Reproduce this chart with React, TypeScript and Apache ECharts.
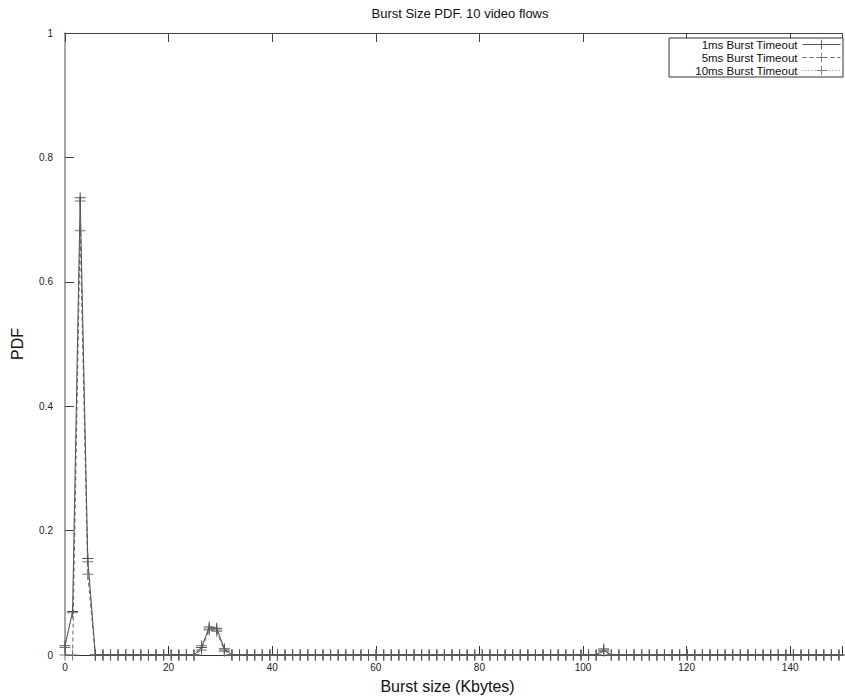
import React, { useEffect, useRef } from "react";
import * as echarts from "echarts";

// Histogram bins: one packet = 1500 bytes = 1500/1024 Kbytes
const binWidthKB = 1500 / 1024;
const binCount = 103;
const bins: number[] = Array.from({ length: binCount }, (_, k) => k * binWidthKB);

const seriesNames = ["1ms Burst Timeout", "5ms Burst Timeout", "10ms Burst Timeout"];

const pdf1ms: number[] = [
  0.015, 0.070, 0.735, 0.155, 0, 0, 0, 0, 0, 0,
  0, 0, 0, 0, 0, 0, 0, 0, 0.012, 0.045,
  0.043, 0.010, 0, 0, 0, 0, 0, 0, 0, 0,
  0, 0, 0, 0, 0, 0, 0, 0, 0, 0,
  0, 0, 0, 0, 0, 0, 0, 0, 0, 0,
  0, 0, 0, 0, 0, 0, 0, 0, 0, 0,
  0, 0, 0, 0, 0, 0, 0, 0, 0, 0,
  0, 0.008, 0, 0, 0, 0, 0, 0, 0, 0,
  0, 0, 0, 0, 0, 0, 0, 0, 0, 0,
  0, 0, 0, 0, 0, 0, 0, 0, 0, 0,
  0, 0, 0,
];

const pdf5ms: number[] = [
  0, 0, 0.682, 0.130, 0, 0, 0, 0, 0, 0,
  0, 0, 0, 0, 0, 0, 0, 0, 0.008, 0.042,
  0.038, 0.008, 0, 0, 0, 0, 0, 0, 0, 0,
  0, 0, 0, 0, 0, 0, 0, 0, 0, 0,
  0, 0, 0, 0, 0, 0, 0, 0, 0, 0,
  0, 0, 0, 0, 0, 0, 0, 0, 0, 0,
  0, 0, 0, 0, 0, 0, 0, 0, 0, 0,
  0, 0.006, 0, 0, 0, 0, 0, 0, 0, 0,
  0, 0, 0, 0, 0, 0, 0, 0, 0, 0,
  0, 0, 0, 0, 0, 0, 0, 0, 0, 0,
  0, 0, 0,
];

const pdf10ms: number[] = [
  0.012, 0.068, 0.730, 0.150, 0, 0, 0, 0, 0, 0,
  0, 0, 0, 0, 0, 0, 0, 0, 0.015, 0.040,
  0.040, 0.006, 0, 0, 0, 0, 0, 0, 0, 0,
  0, 0, 0, 0, 0, 0, 0, 0, 0, 0,
  0, 0, 0, 0, 0, 0, 0, 0, 0, 0,
  0, 0, 0, 0, 0, 0, 0, 0, 0, 0,
  0, 0, 0, 0, 0, 0, 0, 0, 0, 0,
  0, 0.010, 0, 0, 0, 0, 0, 0, 0, 0,
  0, 0, 0, 0, 0, 0, 0, 0, 0, 0,
  0, 0, 0, 0, 0, 0, 0, 0, 0, 0,
  0, 0, 0,
];

const yTicks = [0, 0.2, 0.4, 0.6, 0.8, 1];

const PLUS = "path://M5,0L6,0L6,11L5,11Z M0,5L11,5L11,6L0,6Z";
const FONT = "Liberation Sans, Arial, sans-serif";

export default function App() {
  const ref = useRef<HTMLDivElement>(null);
  useEffect(() => {
    if (!ref.current) return;
    const chart = echarts.init(ref.current, undefined, { renderer: "svg" });
    const values = [pdf1ms, pdf5ms, pdf10ms];
    const styles = [
      { color: "#555", type: "solid" },
      { color: "#666", type: [4, 3] },
      { color: "#888", type: [1, 2] },
    ];
    const series = seriesNames.map((name, i) => ({
      name,
      type: "line",
      data: bins.map((x, k) => [x, values[i][k]]),
      symbol: PLUS,
      symbolSize: 11,
      showSymbol: true,
      clip: false,
      itemStyle: { color: i === 0 ? "#555" : "#777" },
      lineStyle: { width: 1, color: styles[i].color, type: styles[i].type as any },
      z: 3 - i,
    }));
    chart.setOption({
      animation: false,
      backgroundColor: "#fff",
      title: {
        text: "Burst Size PDF. 10 video flows",
        left: 455,
        top: 2,
        textAlign: "center",
        textStyle: { fontFamily: FONT, fontSize: 13, fontWeight: "normal", color: "#111" },
      },
      legend: {
        data: seriesNames,
        orient: "vertical",
        right: 2,
        top: 38,
        align: "right",
        itemGap: 0,
        itemWidth: 38,
        itemHeight: 12,
        padding: [0, 2, 0, 26],
        backgroundColor: "#fff",
        borderColor: "#333",
        borderWidth: 1,
        borderRadius: 0,
        lineStyle: { width: 1 },
        textStyle: { fontFamily: FONT, fontSize: 11.5, lineHeight: 13, color: "#111" },
      },
      grid: { left: 65, top: 33, bottom: 42, right: -10, containLabel: false },
      xAxis: [
        {
          type: "value",
          min: 0,
          max: 150,
          interval: 20,
          name: "Burst size (Kbytes)",
          nameLocation: "middle",
          nameGap: 23,
          nameTextStyle: { fontFamily: FONT, fontSize: 16, color: "#111", padding: [0, 12, 0, 0] },
          axisLine: { show: true, onZero: false, lineStyle: { color: "#333", width: 1 } },
          axisTick: { show: true, inside: true, length: 9, lineStyle: { color: "#333" } },
          axisLabel: {
            fontFamily: FONT,
            fontSize: 10,
            color: "#222",
            margin: 7,
            formatter: (v: number) => (v >= 150 ? "" : String(v)),
          },
          splitLine: { show: false },
        },
        {
          type: "value",
          position: "top",
          min: 0,
          max: 150,
          interval: 20,
          axisLine: { show: true, onZero: false, lineStyle: { color: "#444", width: 1 } },
          axisTick: { show: true, inside: true, length: 9, lineStyle: { color: "#444" } },
          axisLabel: { show: false },
          splitLine: { show: false },
        },
      ],
      yAxis: {
        type: "value",
        min: yTicks[0],
        max: yTicks[yTicks.length - 1],
        interval: 0.2,
        name: "PDF",
        nameLocation: "middle",
        nameGap: 40,
        nameTextStyle: { fontFamily: FONT, fontSize: 16, color: "#111" },
        axisLine: { show: true, onZero: false, lineStyle: { color: "#888", width: 1.5 } },
        axisTick: { show: true, inside: true, length: 9, lineStyle: { color: "#444" } },
        axisLabel: {
          fontFamily: FONT,
          fontSize: 10,
          color: "#222",
          margin: 12,
          formatter: (v: number) => String(Math.round(v * 10) / 10),
        },
        splitLine: { show: false },
      },
      series,
    });
    return () => chart.dispose();
  }, []);
  return (
    <div
      ref={ref}
      style={{ position: "fixed", left: 0, top: 0, width: 845, height: 699, background: "#fff" }}
    />
  );
}
